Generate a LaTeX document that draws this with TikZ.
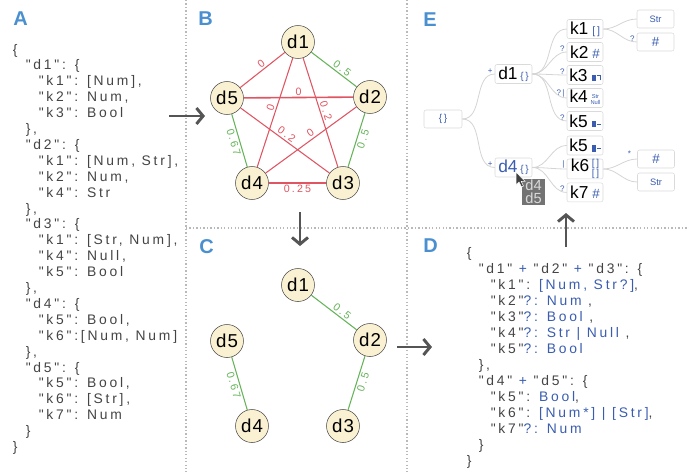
\documentclass[tikz,border=0pt]{standalone}
\usepackage{fontspec}
\setmainfont{Liberation Sans}
\newfontfamily\codefont[LetterSpace=20]{Liberation Sans}
\newfontfamily\docfont[LetterSpace=6]{Liberation Sans}
\usetikzlibrary{positioning,arrows.meta,calc}

\definecolor{panelblue}{HTML}{4A8FCF}
\definecolor{typeblue}{HTML}{3A5DB0}
\definecolor{codegray}{HTML}{444444}
\definecolor{edgered}{HTML}{E05562}
\definecolor{edgegreen}{HTML}{66B35A}
\definecolor{nodefill}{HTML}{FAF0D2}
\definecolor{arrowgray}{HTML}{555555}
\definecolor{linkgray}{HTML}{D4D4D4}
\definecolor{boxgray}{HTML}{DADADA}

\newcommand{\ty}[1]{\textcolor{typeblue}{#1}}
\newcommand{\aicon}{{\fontsize{8}{8}\selectfont\color{typeblue}[\,]}}
\newcommand{\nicon}{{\fontsize{10}{10}\selectfont\color{typeblue}\#}}
\newcommand{\oicon}{{\fontsize{7.5}{7.5}\selectfont\color{typeblue}\{\,\}}}
\newcommand{\bicon}{{\color{typeblue}\rule{3.4pt}{4.8pt}\hspace{0.4pt}\rule[4.2pt]{2.4pt}{0.6pt}\rule[0.6pt]{0.6pt}{4.2pt}}}
\newcommand{\biconb}{{\color{typeblue}\rule{3.4pt}{4.8pt}\hspace{0.4pt}\rule[2pt]{2.8pt}{0.6pt}}}
\newcommand{\snicon}{{\fontsize{4.3}{4.6}\selectfont\color{typeblue}\begin{tabular}{@{}c@{}}Str\\Null\end{tabular}}}
\newcommand{\aaicon}{{\fontsize{7.5}{6.2}\selectfont\color{typeblue}\begin{tabular}{@{}c@{}}[\,]\\[0pt][\,]\end{tabular}}}

\tikzset{
  panel/.style={font=\bfseries\fontsize{15}{15}\selectfont, text=panelblue, anchor=base west, inner sep=0pt},
  code/.style={font=\codefont\fontsize{10.4}{11}\selectfont, text=codegray, anchor=base west, inner sep=0pt},
  divider/.style={gray!55, line width=0.8pt, dash pattern=on 1pt off 1.6pt},
  bigarrow/.style={arrowgray, line width=2.2pt, -{Straight Barb[length=5pt,width=12pt]}},
  doc/.style={circle, draw=black!70, fill=nodefill, minimum size=24.75pt, inner sep=0pt, font=\docfont\fontsize{14}{14}\selectfont},
  redge/.style={edgered, line width=0.8pt},
  gedge/.style={edgegreen, line width=0.8pt},
  wlbl/.style={font=\codefont\fontsize{8}{8}\selectfont, sloped, inner sep=1.2pt},
  tbox/.style={draw=boxgray, fill=white, rounded corners=1.5pt, minimum width=27pt, minimum height=14.25pt, inner sep=0pt, font=\fontsize{13}{13}\selectfont},
  leaf/.style={tbox, minimum width=27.75pt, minimum height=13.5pt, font=\fontsize{7}{7}\selectfont, text=typeblue},
  link/.style={linkgray, line width=0.6pt},
  opt/.style={font=\fontsize{6}{6}\selectfont, text=typeblue, inner sep=0.5pt},
  tip/.style={fill=black!55, text=black!15, minimum width=17.25pt, minimum height=19.5pt, inner sep=0pt, align=center, font=\fontsize{11}{9.8}\selectfont}
}

\begin{document}
\begin{tikzpicture}[x=0.75pt, y=-0.75pt]
  \useasboundingbox (0,0) rectangle (689,472);

  % panel frames
  \draw[divider] (186,0) -- (186,472);
  \draw[divider] (407,0) -- (407,472);
  \draw[divider] (186,228) -- (689,228);

  \node[panel] (labA) at (13,25) {A};
  \node[panel] (labB) at (198,25) {B};
  \node[panel] (labC) at (199,253) {C};
  \node[panel] (labD) at (423,252) {D};
  \node[panel] (labE) at (423,26) {E};

  % A: input documents
  \foreach \ind/\txt [count=\i from 0] in {
      0/{\{}, 1/{"d1": \{}, 2/{"k1": [Num],}, 2/{"k2": Num,}, 2/{"k3": Bool}, 1/{\},},
      1/{"d2": \{}, 2/{"k1": [Num, Str],}, 2/{"k2": Num,}, 2/{"k4": Str}, 1/{\},},
      1/{"d3": \{}, 2/{"k1": [Str, Num],}, 2/{"k4": Null,}, 2/{"k5": Bool}, 1/{\},},
      1/{"d4": \{}, 2/{"k5": Bool,}, 2/{"k6":[Num, Num]}, 1/{\},},
      1/{"d5": \{}, 2/{"k5": Bool,}, 2/{"k6": [Str],}, 2/{"k7": Num}, 1/{\}},
      0/{\}}}
    \node[code] (ja\i) at (12.5+13*\ind, 54+15.9*\i) {\txt};

  % B: similarity graph
  \node[doc] (b1) at (298,42) {d1};
  \node[doc] (b2) at (370,97) {d2};
  \node[doc] (b3) at (343,183) {d3};
  \node[doc] (b4) at (252,183) {d4};
  \node[doc] (b5) at (227,98) {d5};

  \draw[redge] (b1) -- node[wlbl, above, pos=0.45, text=edgered] {0} (b5);
  \draw[gedge] (b1) -- node[wlbl, above, pos=0.6, text=edgegreen] {0.5} (b2);
  \draw[redge, line width=1.2pt] (b5) -- node[wlbl, above, text=edgered] {0} (b2);
  \draw[redge] (b1) -- node[wlbl, above, pos=0.47, text=edgered] {0} (b4);
  \draw[redge] (b1) -- node[wlbl, above, pos=0.5, text=edgered] {0.2} (b3);
  \draw[redge] (b5) -- node[wlbl, above, pos=0.48, text=edgered] {0.2} (b3);
  \draw[redge] (b2) -- node[wlbl, above, pos=0.47, text=edgered] {0} (b4);
  \draw[gedge] (b2) -- node[wlbl, below, pos=0.45, text=edgegreen] {0.5} (b3);
  \draw[gedge] (b5) -- node[wlbl, below, text=edgegreen] {0.67} (b4);
  \draw[redge, line width=1.2pt] (b4) -- node[wlbl, below, text=edgered] {0.25} (b3);

  % C: clusters
  \node[doc] (c1) at (298,285) {d1};
  \node[doc] (c2) at (370,340) {d2};
  \node[doc] (c3) at (343,426) {d3};
  \node[doc] (c4) at (252,426) {d4};
  \node[doc] (c5) at (227,341) {d5};

  \draw[gedge] (c1) -- node[wlbl, above, pos=0.6, text=edgegreen] {0.5} (c2);
  \draw[gedge] (c2) -- node[wlbl, below, pos=0.45, text=edgegreen] {0.5} (c3);
  \draw[gedge] (c5) -- node[wlbl, below, text=edgegreen] {0.67} (c4);

  % D: merged schema
  \foreach \ind/\txt [count=\i from 0] in {
      0/{\{}, 1/{"d1" \ty{+} "d2" \ty{+} "d3": \{},
      2/{"k1": \ty{[Num, Str?]},}, 2/{"k2"\ty{?: Num} ,}, 2/{"k3"\ty{?: Bool} ,},
      2/{"k4"\ty{?: Str | Null} ,}, 2/{"k5"\ty{?: Bool}}, 1/{\},},
      1/{"d4" \ty{+} "d5": \{}, 2/{"k5": \ty{Bool},}, 2/{"k6": \ty{[Num*] | [Str]},},
      2/{"k7"\ty{?: Num}}, 1/{\}}, 0/{\}}}
    \node[code] (jd\i) at (466.5+12*\ind, 257+16*\i) {\txt};

  % E: schema tree
  \node[tbox, minimum width=28.5pt, minimum height=13.5pt] (root) at (443,119) {\oicon};
  \node[tbox, minimum width=27.75pt] (d1e) at (513.5,74) {d1\hspace{2pt}\oicon};
  \node[tbox, minimum width=27.75pt] (d4e) at (513.5,167.5) {\textcolor{typeblue}{d4}\hspace{2pt}\oicon};

  \node[tbox] (k1) at (585,29) {k1\hspace{3pt}\aicon};
  \node[tbox, below=2.6pt of k1] (k2) {k2\hspace{3pt}\nicon};
  \node[tbox, below=2.6pt of k2] (k3) {k3\hspace{3pt}\bicon};
  \node[tbox, below=2.6pt of k3] (k4) {k4\hspace{2pt}\snicon};
  \node[tbox, below=2.6pt of k4] (k5) {k5\hspace{3pt}\biconb};
  \node[tbox] (k5b) at (585,145.5) {k5\hspace{3pt}\biconb};
  \node[tbox, below=2.6pt of k5b] (k6) {k6\hspace{2pt}\aaicon};
  \node[tbox, below=2.6pt of k6] (k7) {k7\hspace{3pt}\nicon};

  \node[leaf] (s1) at (655.5,19) {Str};
  \node[leaf] (n1) at (655.5,42) {\nicon};
  \node[leaf] (n2) at (656,159) {\nicon};
  \node[leaf] (s2) at (656,182) {Str};

  \draw[link] (root.east) to[out=0,in=180] (d1e.west);
  \draw[link] (root.east) to[out=0,in=180] (d4e.west);
  \foreach \k in {k1,k2,k3,k4,k5}
    \draw[link] (d1e.east) to[out=0,in=180] (\k.west);
  \foreach \k in {k5b,k6,k7}
    \draw[link] (d4e.east) to[out=0,in=180] (\k.west);
  \draw[link] (k1.east) to[out=0,in=180] (s1.west);
  \draw[link] (k1.east) to[out=0,in=180] (n1.west);
  \draw[link] (k6.east) to[out=0,in=180] (n2.west);
  \draw[link] (k6.east) to[out=0,in=180] (s2.west);

  \node[opt, above left=0pt and 1pt of d1e.west] (o1) {+};
  \node[opt, above left=0pt and 1pt of d4e.west] (o2) {+};
  \node[opt, above left=0pt and 1pt of k2.west] (o3) {?};
  \node[opt, above left=0pt and 1pt of k3.west] (o4) {?};
  \node[opt, above left=0pt and 1pt of k4.west] (o5) {?\,|};
  \node[opt, above left=0pt and 1pt of k5.west] (o6) {?};
  \node[opt, above left=0pt and 1pt of k6.west] (o7) {|};
  \node[opt, above left=0pt and 1pt of k7.west] (o8) {?};
  \node[opt, above left=0pt and 1pt of n1.west] (o9) {?};
  \node[opt, above left=1pt and 4pt of n2.west] (o10) {*};

  \node[tip] (tooltip) at (533.5,192) {d4\\d5};
  \coordinate (cursor) at (516,172);
  \filldraw[fill=black!75, draw=white, line width=0.4pt, shift={(cursor)}]
    (0,0) -- (0,13) -- (3,10) -- (5.5,15) -- (7.5,14) -- (5.2,9.3) -- (9,9.3) -- cycle;

  % flow arrows
  \coordinate (ab-s) at (169,116);
  \coordinate (ab-e) at (205,116);
  \coordinate (bc-s) at (300,212);
  \coordinate (bc-e) at (300,246);
  \coordinate (cd-s) at (397,347);
  \coordinate (cd-e) at (432,347);
  \coordinate (de-s) at (566,247);
  \coordinate (de-e) at (566,213);
  \draw[bigarrow] (ab-s) -- (ab-e);
  \draw[bigarrow] (bc-s) -- (bc-e);
  \draw[bigarrow] (cd-s) -- (cd-e);
  \draw[bigarrow] (de-s) -- (de-e);
\end{tikzpicture}
\end{document}
